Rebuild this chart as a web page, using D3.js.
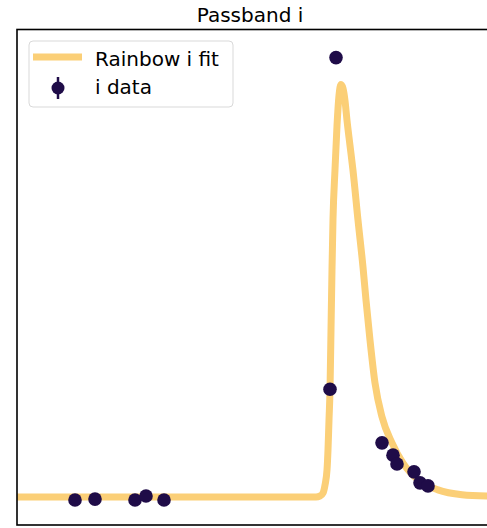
<!DOCTYPE html>
<html>
<head>
<meta charset="utf-8">
<script src="https://cdn.jsdelivr.net/npm/d3@7/dist/d3.min.js"></script>
<style>
    body { margin: 0; background: #fff; }
    svg { display: block; font-family: "DejaVu Sans", sans-serif; }
</style>
</head>
<body>
<div id="chart"></div>
<script>
    // fit curve (time in days, flux normalised)
    var fitTime = [0, 119.6, 121.2, 122.4, 123.2, 124.0, 124.4, 124.8, 125.2, 125.6, 126.0, 126.4,
        127.2, 128.0, 128.8, 129.6, 130.4, 131.2, 132.0, 133.2, 134.4, 136.4, 138.4, 139.6,
        141.2, 143.2, 146.0, 150.0, 154.4, 160.4, 168.4, 178.0, 188.0];
    var fitFlux = [0, 0, 0.002, 0.009, 0.027, 0.061, 0.107, 0.175, 0.243, 0.380, 0.518, 0.632,
        0.745, 0.845, 0.914, 0.939, 0.930, 0.902, 0.857, 0.800, 0.743, 0.630, 0.523, 0.448,
        0.357, 0.259, 0.182, 0.123, 0.077, 0.039, 0.016, 0.005, 0.002];

    // observations in band i
    var dataTime = [23.2, 31.2, 47.2, 51.6, 58.8, 125.2, 127.6, 146.0, 150.4, 152.0, 158.8, 161.2, 164.4];
    var dataFlux = [-0.007, -0.005, -0.007, 0.002, -0.007, 0.245, 1.0, 0.123, 0.095, 0.075, 0.057, 0.032, 0.025];

    var legendLabels = ['Rainbow i fit', 'i data'];
    var titleText = 'Passband i';

    var width = 487,
        height = 528;
    var margin = {left: 17, top: 29.5, bottom: 3};
    var plotRight = 497;

    var fitColor = '#fbcf77',
        dotColor = '#1f0c48';

    var svg = d3.select('#chart').append('svg')
        .attr('width', width)
        .attr('height', height);

    var x = d3.scaleLinear()
        .domain([0, 192])
        .range([margin.left, margin.left + 192 * 2.5]);

    var y = d3.scaleLinear()
        .domain([-0.064, 1.064])
        .range([height - margin.bottom, margin.top]);

    // keep marks inside the axes box
    svg.append('clipPath')
        .attr('id', 'plot-clip')
        .append('rect')
        .attr('x', margin.left)
        .attr('y', margin.top)
        .attr('width', plotRight - margin.left)
        .attr('height', height - margin.bottom - margin.top);

    var fit = fitTime.map(function(t, i) { return {t: t, f: fitFlux[i]}; });
    var obs = dataTime.map(function(t, i) { return {t: t, f: dataFlux[i]}; });

    var line = d3.line()
        .x(function(d) { return x(d.t); })
        .y(function(d) { return y(d.f); })
        .curve(d3.curveMonotoneX);

    var plot = svg.append('g').attr('clip-path', 'url(#plot-clip)');

    plot.append('path')
        .datum(fit)
        .attr('fill', 'none')
        .attr('stroke', fitColor)
        .attr('stroke-width', 7)
        .attr('stroke-linejoin', 'round')
        .attr('stroke-linecap', 'round')
        .attr('d', line);

    plot.append('g')
        .selectAll('circle')
        .data(obs)
        .enter().append('circle')
        .attr('cx', function(d) { return x(d.t); })
        .attr('cy', function(d) { return y(d.f); })
        .attr('r', 6.8)
        .attr('fill', dotColor);

    // axes frame (right side falls outside the window)
    svg.append('rect')
        .attr('x', margin.left)
        .attr('y', margin.top)
        .attr('width', plotRight - margin.left)
        .attr('height', height - margin.bottom - margin.top)
        .attr('fill', 'none')
        .attr('stroke', '#000')
        .attr('stroke-width', 1.6);

    svg.append('text')
        .attr('x', 250)
        .attr('y', 22)
        .attr('text-anchor', 'middle')
        .style('font-size', '20px')
        .text(titleText);

    // legend
    var legend = svg.append('g').attr('transform', 'translate(29,41)');
    legend.append('rect')
        .attr('width', 204)
        .attr('height', 66)
        .attr('rx', 4)
        .attr('fill', '#fff')
        .attr('fill-opacity', 0.8)
        .attr('stroke', '#d9d9d9')
        .attr('stroke-width', 1);
    legend.append('line')
        .attr('x1', 4).attr('x2', 53)
        .attr('y1', 16).attr('y2', 16)
        .attr('stroke', fitColor)
        .attr('stroke-width', 7);
    legend.append('line')
        .attr('x1', 29).attr('x2', 29)
        .attr('y1', 36).attr('y2', 58)
        .attr('stroke', dotColor)
        .attr('stroke-width', 2.5);
    legend.append('circle')
        .attr('cx', 29).attr('cy', 47)
        .attr('r', 6.5)
        .attr('fill', dotColor);
    legend.selectAll('text.lbl')
        .data(legendLabels)
        .enter().append('text')
        .attr('class', 'lbl')
        .attr('x', 66)
        .attr('y', function(d, i) { return 25 + i * 28; })
        .style('font-size', '20px')
        .text(function(d) { return d; });
</script>
</body>
</html>
